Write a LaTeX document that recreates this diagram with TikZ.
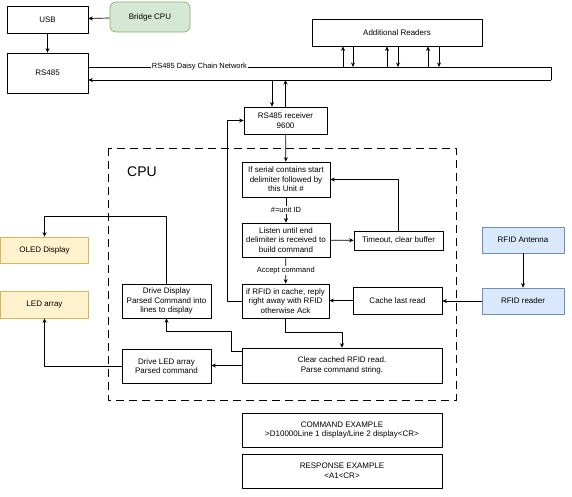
\documentclass[tikz,border=0pt]{standalone}
\usepackage{fontspec}
\setmainfont{Liberation Sans}
\usetikzlibrary{arrows.meta}
\definecolor{grnfill}{HTML}{D5E8D4}
\definecolor{grnline}{HTML}{82B366}
\definecolor{ylwfill}{HTML}{FFF2CC}
\definecolor{ylwline}{HTML}{D6B656}
\definecolor{bluefill}{HTML}{DAE8FC}
\definecolor{blueline}{HTML}{6C8EBF}
\begin{document}
\begin{tikzpicture}[x=1pt, y=-1pt, line width=0.7pt, line join=round, font=\fontsize{8}{9.6}\selectfont, >={Stealth[length=4.5pt,width=4pt]},
  box/.style={draw, align=center, inner sep=1pt},
  bridge/.style={box, rounded corners=6pt, fill=grnfill, draw=grnline},
  outbox/.style={box, fill=ylwfill, draw=ylwline},
  inbox/.style={box, fill=bluefill, draw=blueline},
  lbl/.style={fill=white, inner sep=1pt, font=\fontsize{7.5}{8.5}\selectfont}]
\useasboundingbox (0,0) rectangle (572,496);
\node[box, minimum width=81pt, minimum height=27pt] (usb) at (47.5,19.5) {USB};
\node[bridge, minimum width=80pt, minimum height=30pt] (bcpu) at (150,17) {Bridge CPU};
\node[box, minimum width=81pt, minimum height=40pt] (rs) at (47.5,73) {RS485};
\node[box, minimum width=170pt, minimum height=27pt] (readers) at (397,32.5) {Additional Readers};
\node[box, minimum width=83pt, minimum height=27pt] (recv) at (285.5,120.5) {RS485 receiver\\9600};
\node[box, minimum width=88pt, minimum height=35pt] (serial) at (286,179.5) {If serial contains start\\delimiter followed by\\this Unit \#};
\node[box, minimum width=88pt, minimum height=34pt] (listen) at (286,240) {Listen until end\\delimiter is received to\\build command};
\node[box, minimum width=89pt, minimum height=19pt] (timeout) at (398.5,240.5) {Timeout, clear buffer};
\node[box, minimum width=87pt, minimum height=34pt] (ifrfid) at (285.5,301) {if RFID in cache, reply\\right away with RFID\\otherwise Ack};
\node[box, minimum width=89pt, minimum height=27pt] (cache) at (397.5,300.5) {Cache last read};
\node[inbox, minimum width=82pt, minimum height=26pt] (antenna) at (523,240) {RFID Antenna};
\node[inbox, minimum width=82pt, minimum height=26pt] (reader) at (523,301) {RFID reader};
\node[box, minimum width=200pt, minimum height=35pt] (clear) at (342,365.5) {Clear cached RFID read.\\Parse command string.};
\node[box, minimum width=89pt, minimum height=34pt] (ddisp) at (166.5,301) {Drive Display\\Parsed Command into\\lines to display};
\node[box, minimum width=89pt, minimum height=34pt] (dled) at (166.5,366) {Drive LED array\\Parsed command};
\node[outbox, minimum width=88pt, minimum height=26pt] (oled) at (44.5,250) {OLED Display};
\node[outbox, minimum width=88pt, minimum height=27pt] (ledarr) at (44.5,304.5) {LED array};
\node[box, minimum width=200pt, minimum height=34pt] (cmd) at (342,430) {COMMAND EXAMPLE\\>D10000Line 1 display/Line 2 display<CR>};
\node[box, minimum width=200pt, minimum height=34pt] (resp) at (342,471) {RESPONSE EXAMPLE\\<A1<CR>};
\draw[dash pattern=on 8pt off 5pt] (108,148) rectangle (456,400);
\node[font=\fontsize{14}{16}\selectfont] (cpu) at (142,172) {CPU};
\path (551,67) coordinate (bus1) (551,80) coordinate (bus2);
\draw[->] (bcpu) -- (usb);
\draw[->] (usb) -- (rs);
\draw (rs.east |- bus1) -- node[lbl, pos=.24]{RS485 Daisy Chain Network} (bus1) -- (bus2);
\draw[->] (bus2) -- (rs.east |- bus2);
\foreach \u/\d in {343/353, 387/398, 428/439}{
  \draw[->] (bus1 -| \u,0) -- (readers.south -| \u,0);
  \draw[->] (readers.south -| \d,0) -- (bus1 -| \d,0);
}
\draw[->] (bus2 -| 272,0) -- (recv.north -| 272,0);
\draw[->] (recv.north) -- (bus2 -| recv.north);
\draw[->] (ifrfid.west) -- ++(-14,0) |- (recv.west);
\draw[->] (recv) -- (serial);
\draw[->] (serial) -- node[lbl]{\#=unit ID} (listen);
\draw[->] (listen) -- (timeout);
\draw[->] (timeout.north) |- (serial.east);
\draw[->] (listen) -- node[lbl]{Accept command} (ifrfid);
\draw[->] (cache.west) -- (cache.west -| ifrfid.east);
\draw[->] (reader.west) -- (reader.west -| cache.east);
\draw[->] (antenna) -- (reader);
\draw[->] (ifrfid.south) -- ++(0,14) -| (clear.north);
\draw[->] ([yshift=-4pt]clear.north west) -- ++(-10,0) -- ++(0,-20) -| (ddisp.south);
\draw[->] (clear.west) -- (clear.west -| dled.east);
\draw[->] (ddisp.north) -- ++(0,-67) -| (oled.north);
\draw[->] (dled.west) -| (ledarr.south);
\end{tikzpicture}
\end{document}
